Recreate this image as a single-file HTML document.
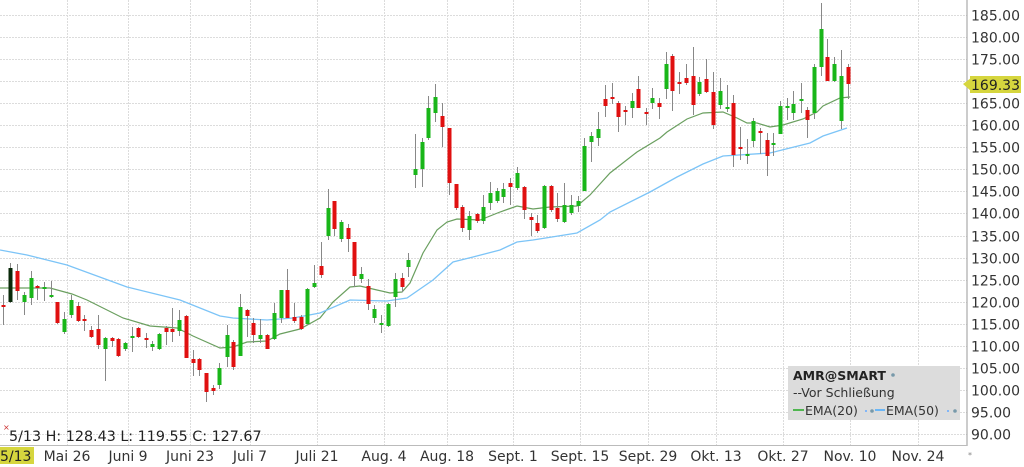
<!DOCTYPE html>
<html><head><meta charset="utf-8"><style>
html,body{margin:0;padding:0;background:#fff;width:1024px;height:467px;overflow:hidden}
svg{display:block;font-family:"DejaVu Sans","Liberation Sans",sans-serif}
</style></head><body>
<svg id="c" width="1024" height="467" viewBox="0 0 1024 467" xmlns="http://www.w3.org/2000/svg">
<g id="grid"></g>
<g id="ema"></g>
<g id="cand"></g>
<line x1="967" y1="0" x2="967" y2="446" stroke="#999" stroke-width="1"/>
<line x1="0" y1="445.5" x2="967" y2="445.5" stroke="#bbb" stroke-width="1"/>
<g id="ylab" font-size="14" fill="#333"></g>
<g id="xlab" font-size="14" fill="#333"></g>
<polygon points="963,84 971,78 971,91" fill="#d6d63e"/>
<rect x="970" y="76" width="51" height="17" fill="#d6d63e"/>
<text x="971" y="90" font-size="14" fill="#222">169.33</text>
<rect x="0" y="447" width="34" height="17" fill="#d6d63e"/>
<text x="0" y="461" font-size="14" fill="#222">5/13</text>
<text x="3" y="430" font-size="8" fill="#c33">×</text>
<text x="9" y="441" font-size="14.3" fill="#222">5/13 H: 128.43 L: 119.55 C: 127.67</text>
<rect x="788" y="366" width="172" height="54" fill="#dcdcdc"/>
<text x="793" y="380" font-size="12.5" font-weight="bold" fill="#222">AMR@SMART</text>
<circle cx="893" cy="375" r="1.8" fill="#79a"/>
<text x="793" y="397" font-size="12.5" fill="#333">--Vor Schließung</text>
<line x1="793" y1="410" x2="804" y2="410" stroke="#2a2" stroke-width="1.5"/>
<text x="805" y="415" font-size="12.5" fill="#333">EMA(20)</text>
<circle cx="866" cy="411" r="1" fill="#6af"/><circle cx="872" cy="411" r="1.8" fill="#79a"/>
<line x1="875" y1="410" x2="885" y2="410" stroke="#4af" stroke-width="1.5"/>
<text x="886" y="415" font-size="12.5" fill="#333">EMA(50)</text>
<circle cx="948" cy="411" r="1" fill="#6af"/><circle cx="955" cy="411" r="1.8" fill="#79a"/>
<text x="968" y="458" font-size="8" fill="#888">*</text>
</svg>
<script>
var NS="http://www.w3.org/2000/svg";
function el(p,t,a,txt){var e=document.createElementNS(NS,t);for(var k in a)e.setAttribute(k,a[k]);if(txt)e.textContent=txt;document.getElementById(p).appendChild(e);return e;}
for(var i=0;i<=19;i++){var y=Math.round(15+i*22.05)+0.5;el("grid","line",{x1:0,y1:y,x2:967,y2:y,stroke:"#dcdcdc","stroke-dasharray":"2,1"});
el("ylab","text",{x:971,y:y+5},(185-5*i).toFixed(2));}
var xs=[[67,"Mai 26"],[128,"Juni 9"],[190,"Juni 23"],[250,"Juli 7"],[317,"Juli 21"],[384,"Aug. 4"],[447,"Aug. 18"],[513,"Sept. 1"],[580,"Sept. 15"],[648,"Sept. 29"],[716,"Okt. 13"],[783,"Okt. 27"],[850,"Nov. 10"],[918,"Nov. 24"]];
xs.forEach(function(d){el("grid","line",{x1:d[0]+.5,y1:0,x2:d[0]+.5,y2:445,stroke:"#dcdcdc","stroke-dasharray":"2,1"});
el("xlab","text",{x:d[0],y:461,"text-anchor":"middle"},d[1]);});
var e20=[[0,288],[50,288],[72,294],[87,300],[123,318],[150,326],[177,328],[193,336],[220,348],[233,347],[247,342],[267,341],[280,334],[300,329],[320,318],[333,302],[350,287],[360,286],[377,290],[390,293],[402,292],[410,283],[423,253],[437,230],[447,222],[457,219],[480,220],[500,212],[517,206],[533,209],[550,207],[577,206],[590,195],[610,173],[637,152],[660,138],[667,132],[687,119],[703,113],[723,112],[737,118],[747,123],[757,123],[770,127],[783,125],[803,119],[817,112],[823,106],[840,98],[850,97]];
var e50=[[0,250],[27,255],[67,265],[127,287],[180,300],[220,316],[233,318],[267,320],[293,318],[320,313],[350,300],[387,301],[407,298],[433,280],[453,262],[473,257],[500,250],[517,242],[533,240],[577,233],[600,220],[610,212],[650,192],[677,177],[703,164],[723,156],[770,153],[810,143],[823,136],[847,128]];
el("ema","polyline",{points:e20.join(" "),fill:"none",stroke:"#6a9f5f","stroke-width":1.2});
el("ema","polyline",{points:e50.join(" "),fill:"none",stroke:"#7cc4f7","stroke-width":1.3});
var G="g",R="r",K="k";
var c=[[3,305,307,295,325,R],[10,268,302,263,303,K],[17,271,291,264,300,R],[24,295,302,292,315,G],[31,278,298,271,305,G],[37,286,288,285,300,R],[44,287,289,282,301,G],[51,295,297,281,298,G],[57,302,323,302,324,R],[64,319,332,312,334,G],[71,300,315,295,318,G],[78,306,321,302,322,R],[84,319,321,315,331,R],[91,330,337,326,338,R],[98,329,345,315,349,R],[105,338,349,337,381,G],[112,338,341,337,347,R],[118,339,356,338,357,R],[125,343,349,342,351,G],[132,336,338,327,352,G],[138,328,337,327,338,R],[146,338,339,333,348,R],[152,344,347,341,351,G],[159,334,349,333,350,G],[166,328,332,326,345,R],[172,329,332,308,342,R],[179,320,331,310,336,G],[186,316,358,315,358,R],[193,359,363,350,376,R],[199,359,370,358,376,R],[206,373,392,373,402,R],[213,388,391,385,395,R],[219,368,385,363,389,G],[227,335,357,325,367,G],[233,342,367,340,370,R],[240,307,356,294,356,G],[247,310,316,309,337,R],[253,323,335,318,343,R],[260,335,339,319,343,G],[267,335,349,334,349,R],[274,313,339,303,340,G],[281,290,318,290,323,G],[287,290,318,269,318,R],[294,317,321,303,323,R],[301,317,329,315,330,R],[307,289,324,288,325,G],[314,283,287,265,288,G],[321,266,275,242,278,R],[328,208,236,189,240,G],[334,201,229,201,236,R],[341,222,239,220,242,G],[348,228,239,224,252,R],[354,242,276,242,287,R],[361,274,279,267,283,G],[368,286,304,279,310,R],[374,309,318,305,323,G],[381,323,324,315,333,G],[388,304,326,303,327,G],[395,279,297,273,307,G],[402,278,287,273,292,R],[408,260,267,253,277,G],[415,169,175,134,188,G],[422,142,169,138,187,G],[428,108,138,96,140,G],[435,97,113,84,122,G],[442,116,127,103,147,R],[449,128,183,128,195,R],[456,184,208,184,210,R],[462,207,228,205,232,R],[469,216,230,211,240,G],[477,214,221,213,223,R],[483,207,221,195,224,G],[490,193,203,182,210,G],[497,191,201,188,203,G],[503,189,197,183,203,G],[510,183,187,178,205,R],[517,173,188,167,190,G],[524,187,210,186,219,R],[531,217,220,213,236,R],[537,223,231,215,233,R],[544,186,228,185,229,G],[551,186,210,185,212,R],[557,208,219,193,222,R],[564,205,222,183,223,G],[571,205,213,195,215,G],[578,201,206,196,212,G],[584,146,191,138,191,G],[591,136,142,132,162,G],[598,129,138,112,146,G],[605,99,106,85,117,R],[612,97,98,83,104,R],[618,103,117,101,132,R],[625,110,111,106,125,R],[632,101,108,93,118,G],[638,89,108,76,108,R],[646,112,113,108,125,R],[652,98,103,88,109,G],[659,103,107,98,119,R],[666,64,89,52,99,G],[672,56,91,54,111,R],[679,82,83,72,94,R],[686,78,83,64,85,R],[693,76,105,47,115,R],[699,82,94,77,96,G],[706,79,92,59,93,R],[713,92,125,72,129,R],[720,91,105,78,109,G],[727,107,108,85,112,G],[733,103,155,95,167,R],[740,147,148,127,160,R],[747,154,155,139,164,G],[753,121,141,118,147,G],[760,131,132,128,154,R],[767,140,156,133,176,R],[773,143,144,133,156,G],[780,106,134,101,134,G],[787,106,108,98,120,G],[793,104,113,91,120,G],[801,99,100,83,113,G],[807,110,120,107,138,R],[814,67,113,64,119,G],[821,29,67,3,76,G],[827,57,81,39,81,R],[834,64,81,57,82,G],[841,76,121,50,129,G],[848,67,84,64,99,R]];
var col={g:"#19b619",r:"#e01010",k:"#0a2a0a"};
c.forEach(function(d){el("cand","line",{x1:d[0]+.5,y1:d[3],x2:d[0]+.5,y2:d[4],stroke:"#888","stroke-width":1});
var h=Math.max(2,d[2]-d[1]);el("cand","rect",{x:d[0]-1.5,y:d[1],width:4,height:h,fill:col[d[5]]});});
</script>
</body></html>
